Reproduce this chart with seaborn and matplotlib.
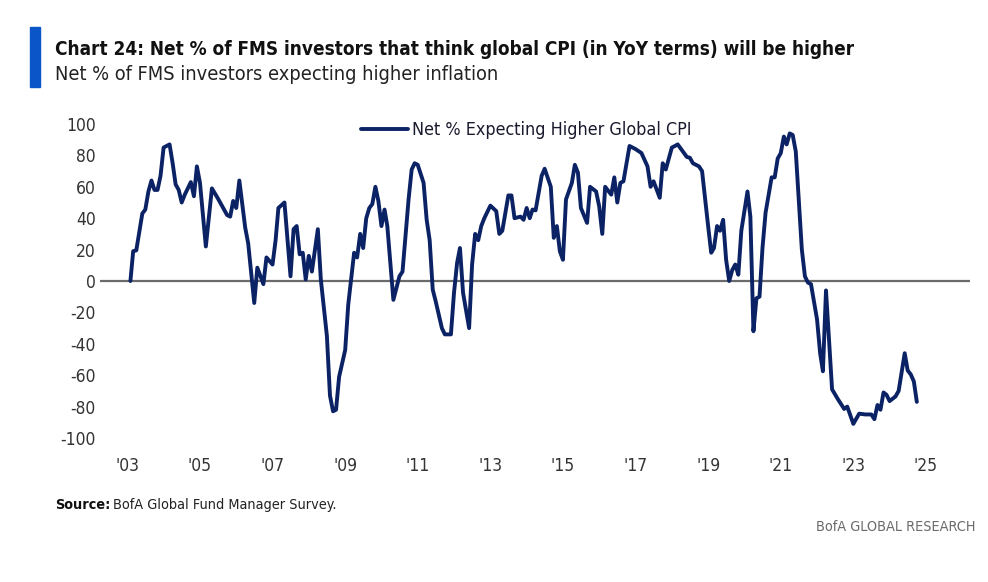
import numpy as np
import pandas as pd
import matplotlib
matplotlib.use("Agg")
import matplotlib.pyplot as plt
import seaborn as sns

# values (month, net % expecting higher global CPI)
months = [
    "2003-02", "2003-03", "2003-04", "2003-06", "2003-07", "2003-08", "2003-09", "2003-10", "2003-11", "2003-12",
    "2004-01", "2004-03", "2004-04", "2004-05", "2004-06", "2004-07", "2004-08", "2004-10", "2004-11", "2004-12",
    "2005-01", "2005-03", "2005-05", "2005-07", "2005-08", "2005-10", "2005-11", "2005-12",
    "2006-01", "2006-02", "2006-04", "2006-05", "2006-07", "2006-08", "2006-10", "2006-11",
    "2007-01", "2007-02", "2007-03", "2007-05", "2007-07", "2007-08", "2007-09", "2007-10", "2007-11", "2007-12",
    "2008-01", "2008-02", "2008-04", "2008-05", "2008-07", "2008-08", "2008-09", "2008-10", "2008-11",
    "2009-01", "2009-02", "2009-04", "2009-05", "2009-06", "2009-07", "2009-08", "2009-09", "2009-10", "2009-11", "2009-12",
    "2010-01", "2010-02", "2010-03", "2010-05", "2010-07", "2010-08", "2010-10", "2010-11", "2010-12",
    "2011-01", "2011-03", "2011-04", "2011-05", "2011-06", "2011-07", "2011-09", "2011-10", "2011-12",
    "2012-01", "2012-02", "2012-03", "2012-04", "2012-06", "2012-07", "2012-08", "2012-09", "2012-10", "2012-11",
    "2013-01", "2013-03", "2013-04", "2013-05", "2013-07", "2013-08", "2013-09", "2013-11", "2013-12",
    "2014-01", "2014-02", "2014-03", "2014-04", "2014-06", "2014-07", "2014-09", "2014-10", "2014-11", "2014-12",
    "2015-01", "2015-02", "2015-04", "2015-05", "2015-06", "2015-07", "2015-09", "2015-10", "2015-12",
    "2016-01", "2016-02", "2016-03", "2016-05", "2016-06", "2016-07", "2016-08", "2016-09", "2016-11",
    "2017-01", "2017-03", "2017-05", "2017-06", "2017-07", "2017-09", "2017-10", "2017-11",
    "2018-01", "2018-02", "2018-03", "2018-06", "2018-07", "2018-08", "2018-10", "2018-11",
    "2019-01", "2019-02", "2019-03", "2019-04", "2019-05", "2019-06", "2019-07", "2019-08", "2019-09", "2019-10", "2019-11", "2019-12",
    "2020-02", "2020-03", "2020-04", "2020-05", "2020-06", "2020-07", "2020-08", "2020-10", "2020-11", "2020-12",
    "2021-01", "2021-02", "2021-03", "2021-04", "2021-05", "2021-06", "2021-07", "2021-08", "2021-09", "2021-10", "2021-11",
    "2022-01", "2022-02", "2022-03", "2022-04", "2022-05", "2022-06", "2022-08", "2022-10", "2022-11",
    "2023-01", "2023-03", "2023-05", "2023-07", "2023-08", "2023-09", "2023-10", "2023-11", "2023-12",
    "2024-01", "2024-03", "2024-04", "2024-06", "2024-07", "2024-08", "2024-09", "2024-10",
]
net_pct = [
    0, 19, 19.5, 43, 45.5, 57, 64, 58, 58, 67,
    85, 87, 75, 61.5, 58, 50, 55, 63, 54, 73,
    62.5, 22, 59, 52.5, 49, 42, 41, 51,
    46.5, 64, 34, 24, -14, 8.5, -2, 15,
    10.5, 26, 46.5, 50, 3, 33, 35, 17, 18, 1,
    16, 6, 33, 1, -35, -73, -83, -82, -61,
    -44, -15, 18, 15, 30, 21, 40, 46.5, 49, 60, 51,
    35, 45.5, 35, -12, 3, 6, 52, 71, 75,
    74, 62.5, 39, 26, -5.5, -13, -30, -34, -34,
    -7.5, 11.5, 21, -7.5, -30, 10.5, 30, 26, 35, 40,
    48, 44.5, 30, 32, 54.5, 54.5, 40, 41, 39,
    46.5, 40, 45.5, 45, 67, 71.5, 60, 27.5, 35, 19,
    13.5, 52, 62.5, 74, 69, 46.5, 37, 60, 57,
    47.5, 30, 60, 55, 66, 50, 62.5, 63.5, 86,
    84, 81.5, 73, 60, 63.5, 53, 75, 71,
    85, 86, 87, 79, 78.5, 75, 73, 70,
    35, 18, 21, 35, 32, 39, 13.5, 0, 7, 10.5, 4, 32,
    57, 41, -32, -11, -10, 21, 43.5, 66, 66, 78,
    81.5, 92, 87, 94, 93, 82.5, 52, 20, 3, -1, -2,
    -24.5, -46, -57.5, -6, -37, -69, -75.5, -81.5, -80,
    -91, -84.5, -85, -85, -88, -79, -82, -71, -72.5,
    -76.5, -73.5, -70, -46, -57, -59.5, -64, -77,
]
tick_years = list(range(2003, 2026, 2))
tick_labels = ["'%02d" % (y % 100) for y in tick_years]
y_ticks = list(range(-100, 101, 20))

navy = "#0b2265"
accent = "#0a55c8"

sns.set_style("white")
plt.rcParams["font.family"] = ["DejaVu Sans"]
plt.rcParams["font.stretch"] = "condensed"

df = pd.DataFrame({"date": pd.to_datetime(months), "value": net_pct})

W, H = 988, 582
fig = plt.figure(figsize=(W / 100, H / 100), dpi=100)
ax = fig.add_axes([100 / W, 1 - 438 / H, 870 / W, 314 / H])

sns.lineplot(data=df, x="date", y="value", ax=ax, color=navy, linewidth=2.8,
             label="Net % Expecting Higher Global CPI")
ax.axhline(0, color="#6b6b6b", linewidth=1.6, zorder=1)

ax.set_ylim(-100, 100)
ax.set_xlim(pd.Timestamp("2002-04-01"), pd.Timestamp("2026-03-20"))
ax.set_yticks(y_ticks)
ax.set_yticklabels([str(v) for v in y_ticks])
ax.set_xticks(pd.to_datetime([f"{y}-01-01" for y in tick_years]))
ax.set_xticklabels(tick_labels)
ax.tick_params(axis="both", length=0, labelsize=12.5, colors="#333333")
ax.tick_params(axis="x", pad=14)
ax.tick_params(axis="y", pad=3)
ax.set_xlabel("")
ax.set_ylabel("")
for s in ax.spines.values():
    s.set_visible(False)

leg = ax.legend(loc="center", bbox_to_anchor=(0.49, 0.98), frameon=False,
                fontsize=12.9, handlelength=2.6, handletextpad=0.2)
for t in leg.get_texts():
    t.set_color("#1a1a2e")

# header
fig.patches.append(plt.Rectangle((30 / W, 1 - 87 / H), 10 / W, 60 / H,
                                 transform=fig.transFigure, color=accent))
fig.text(55 / W, 1 - 55 / H,
         "Chart 24: Net % of FMS investors that think global CPI (in YoY terms) will be higher",
         fontsize=13.6, fontweight="bold", color="#111111", va="baseline")
fig.text(55 / W, 1 - 80 / H, "Net % of FMS investors expecting higher inflation",
         fontsize=14.3, color="#222222", va="baseline")

# footer
src = fig.text(55 / W, 1 - 509 / H, "Source:", fontsize=10.4, fontweight="bold",
               color="#111111", va="baseline")
fig.canvas.draw()
bb = src.get_window_extent(fig.canvas.get_renderer())
fig.text(bb.x1 / W + 3 / W, 1 - 509 / H, "BofA Global Fund Manager Survey.",
         fontsize=10.4, color="#222222", va="baseline")
fig.text(975 / W, 1 - 531 / H, "BofA GLOBAL RESEARCH", fontsize=10.4,
         color="#6b6b6b", ha="right", va="baseline")

fig.savefig("out.png", dpi=100)
